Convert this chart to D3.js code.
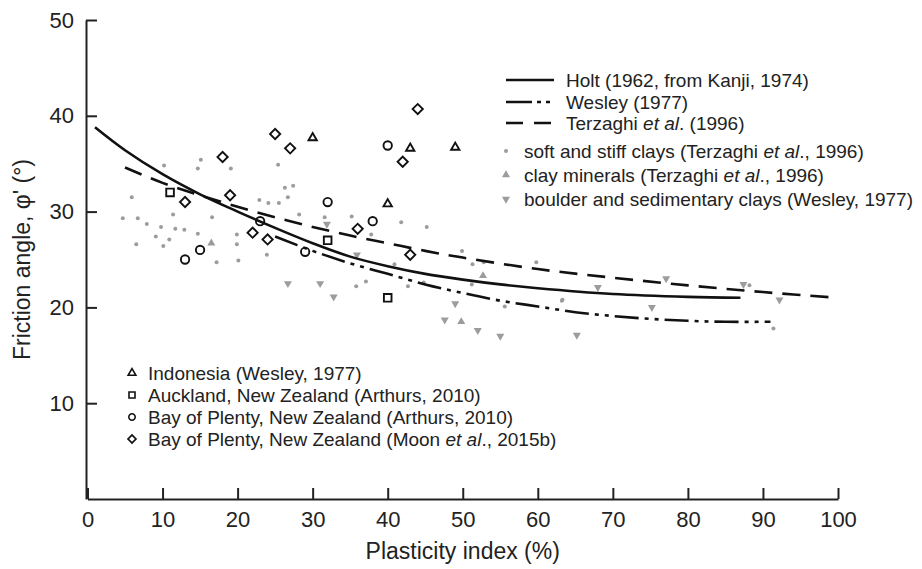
<!DOCTYPE html>
<html lang="en">
  <head>
    <meta charset="UTF-8" />
    <title></title>
    <script src="https://d3js.org/d3.v7.min.js"></script>
    <style>
      body { margin: 0; background: #fff; }
      text { font-family: 'Liberation Sans', Arial, sans-serif; fill: #222; }
    </style>
  </head>
  <body>
    <svg id="chart" width="922" height="569"></svg>
    <script>
      // fitted curves (PI %, friction angle)
      const holt = [[1, 38.8], [5, 36.4], [10, 33.9], [15, 31.8], [20, 30.0], [25, 28.3], [30, 26.7], [35, 25.3], [40, 24.3], [45, 23.5], [50, 22.9], [55, 22.4], [60, 22.0], [70, 21.4], [80, 21.1], [87, 21.0]]
      const wesley = [[25, 27.4], [30, 25.9], [35, 24.6], [40, 23.5], [45, 22.4], [50, 21.5], [55, 20.7], [60, 20.1], [65, 19.5], [70, 19.1], [75, 18.8], [80, 18.6], [85, 18.5], [91, 18.5]]
      const terzaghi = [[5, 34.6], [10, 33.0], [15, 31.7], [20, 30.5], [25, 29.4], [30, 28.4], [35, 27.5], [40, 26.7], [45, 25.9], [50, 25.2], [60, 24.0], [70, 23.1], [80, 22.3], [90, 21.6], [100, 21.0]]

      // grey background data
      const softClays = [[10.2, 34.8], [15.1, 35.4], [14.7, 34.5], [19.1, 34.5], [25.4, 34.9], [5.9, 31.5], [26.3, 32.5], [27.4, 32.7], [26.7, 31.5], [22.9, 31.2], [24.1, 30.9], [25.5, 30.9], [4.7, 29.3], [6.7, 29.3], [7.9, 28.7], [9.8, 28.4], [9.1, 27.4], [10.9, 27.1], [6.5, 26.6], [10.1, 26.4], [11.4, 29.7], [11.7, 28.2], [12.9, 28.1], [14.7, 27.7], [16.6, 29.4], [17.2, 24.7], [19.9, 27.6], [19.9, 26.6], [20.1, 24.9], [23.9, 25.5], [28.2, 29.7], [31.6, 29.4], [35.2, 29.5], [37.8, 27.6], [41.8, 28.9], [45.2, 28.4], [40.9, 24.5], [37.1, 22.7], [35.8, 22.2], [42.7, 22.2], [49.9, 25.9], [51.3, 24.5], [52.8, 24.7], [51.2, 22.4], [59.8, 24.7], [63.2, 20.7], [55.6, 20.1], [44.8, 22.6], [88.2, 22.3], [63.3, 20.8], [91.4, 17.8]]
      const clayMinerals = [[16.5, 26.7], [52.7, 23.3], [49.8, 18.5]]
      const boulderClays = [[31.9, 28.7], [26.7, 22.5], [31.0, 22.5], [32.8, 21.1], [35.9, 25.5], [49.0, 20.4], [47.6, 18.7], [52.0, 17.6], [55.0, 17.0], [65.2, 17.1], [68.0, 22.1], [77.1, 23.0], [75.2, 20.0], [87.4, 22.4], [92.2, 20.8]]

      // black open markers
      const indonesia = [[30, 37.7], [40, 30.8], [43, 36.6], [49, 36.7]]
      const auckland = [[11, 32], [32, 27], [40, 21]]
      const bopArthurs = [[13, 25], [15, 26], [23, 29], [29, 25.8], [32, 31], [38, 29], [40, 36.9]]
      const bopMoon = [[13, 31], [18, 35.7], [19, 31.7], [22, 27.8], [24, 27.1], [25, 38.1], [27, 36.6], [36, 28.2], [43, 25.5], [42, 35.2], [44, 40.7]]

      const xTicks = [0, 10, 20, 30, 40, 50, 60, 70, 80, 90, 100]
      const yTicks = [10, 20, 30, 40, 50]

      const svg = d3.select('#chart')
      const x = d3.scaleLinear().domain([0, 100]).range([87.5, 838])
      const y = d3.scaleLinear().domain([0, 50]).range([499, 20])

      // axes, ticks point inwards
      const xAxis = svg.append('g')
        .attr('transform', `translate(0,${y(0)})`)
        .call(d3.axisBottom(x).tickValues(xTicks).tickSizeInner(-11).tickSizeOuter(0).tickPadding(12))
      const yAxis = svg.append('g')
        .attr('transform', `translate(${x(0) - 1.5},0)`)
        .call(d3.axisLeft(y).tickValues(yTicks).tickSizeInner(-11).tickSizeOuter(0).tickPadding(12))
      ;[xAxis, yAxis].forEach(g => {
        g.selectAll('path, line').attr('stroke', '#222').attr('stroke-width', 2)
        g.selectAll('text').attr('font-size', 22).attr('fill', '#222')
          .attr('font-family', "'Liberation Sans', Arial, sans-serif")
      })

      svg.append('text')
        .attr('x', (x(0) + x(100)) / 2).attr('y', 559)
        .attr('text-anchor', 'middle').attr('font-size', 23)
        .text('Plasticity index (%)')
      svg.append('text')
        .attr('transform', `translate(30,${y(25)}) rotate(-90)`)
        .attr('text-anchor', 'middle').attr('font-size', 23)
        .text("Friction angle, \u03c6' (\u00b0)")

      // grey markers
      const grey = '#9c9c9c'
      svg.append('g').selectAll('circle').data(softClays).join('circle')
        .attr('cx', d => x(d[0])).attr('cy', d => y(d[1])).attr('r', 2)
        .attr('fill', grey)
      const triUp = d3.symbol(d3.symbolTriangle, 28)
      svg.append('g').selectAll('path').data(clayMinerals).join('path')
        .attr('d', triUp).attr('fill', grey)
        .attr('transform', d => `translate(${x(d[0])},${y(d[1])})`)
      svg.append('g').selectAll('path').data(boulderClays).join('path')
        .attr('d', triUp).attr('fill', grey)
        .attr('transform', d => `translate(${x(d[0])},${y(d[1])}) rotate(180)`)

      // curves
      const line = d3.line().x(d => x(d[0])).y(d => y(d[1])).curve(d3.curveCatmullRom)
      const curves = [
        { data: holt, dash: null },
        { data: wesley, dash: '24,6,4,6,4,6' },
        { data: terzaghi, dash: '18,10' }
      ]
      curves.forEach(c => {
        svg.append('path').datum(c.data).attr('d', line)
          .attr('fill', 'none').attr('stroke', '#111').attr('stroke-width', 2.6)
          .attr('stroke-dasharray', c.dash)
      })

      // open black markers
      const markerSets = [
        { data: indonesia, sym: d3.symbol(d3.symbolTriangle, 30), rot: 0 },
        { data: auckland, sym: d3.symbol(d3.symbolSquare, 58), rot: 0 },
        { data: bopArthurs, sym: d3.symbol(d3.symbolCircle, 55), rot: 0 },
        { data: bopMoon, sym: d3.symbol(d3.symbolSquare, 52), rot: 45 }
      ]
      markerSets.forEach(m => {
        svg.append('g').selectAll('path').data(m.data).join('path')
          .attr('d', m.sym).attr('fill', 'none').attr('stroke', '#111').attr('stroke-width', 1.9)
          .attr('transform', d => `translate(${x(d[0])},${y(d[1])}) rotate(${m.rot})`)
      })

      // legend, top right
      const addLabel = (g, tx, ty, parts) => {
        const t = g.append('text').attr('x', tx).attr('y', ty).attr('dy', '0.36em').attr('font-size', 19)
        parts.forEach(p => {
          const s = t.append('tspan').text(p.t)
          if (p.i) s.attr('font-style', 'italic')
        })
      }
      const lg = svg.append('g')
      const lineItems = [
        { y: 80, dash: null, parts: [{ t: 'Holt (1962, from Kanji, 1974)' }] },
        { y: 102, dash: '26,5,4,5,4,5', parts: [{ t: 'Wesley (1977)' }] },
        { y: 123, dash: '17,11', parts: [{ t: 'Terzaghi ' }, { t: 'et al', i: true }, { t: '. (1996)' }] }
      ]
      lineItems.forEach(it => {
        lg.append('line').attr('x1', 506).attr('x2', 554).attr('y1', it.y).attr('y2', it.y)
          .attr('stroke', '#111').attr('stroke-width', 2.6).attr('stroke-dasharray', it.dash)
        addLabel(lg, 566, it.y, it.parts)
      })
      lg.append('circle').attr('cx', 506).attr('cy', 151).attr('r', 2).attr('fill', grey)
      addLabel(lg, 524, 151, [{ t: 'soft and stiff clays (Terzaghi ' }, { t: 'et al', i: true }, { t: '., 1996)' }])
      lg.append('path').attr('d', triUp).attr('fill', grey).attr('transform', 'translate(506,175)')
      addLabel(lg, 524, 175, [{ t: 'clay minerals (Terzaghi ' }, { t: 'et al', i: true }, { t: '., 1996)' }])
      lg.append('path').attr('d', triUp).attr('fill', grey).attr('transform', 'translate(506,199) rotate(180)')
      addLabel(lg, 524, 199, [{ t: 'boulder and sedimentary clays (Wesley, 1977)' }])

      // legend, bottom left
      const bl = svg.append('g')
      const markerItems = [
        { y: 373, sym: d3.symbol(d3.symbolTriangle, 26), rot: 0, parts: [{ t: 'Indonesia (Wesley, 1977)' }] },
        { y: 395, sym: d3.symbol(d3.symbolSquare, 36), rot: 0, parts: [{ t: 'Auckland, New Zealand (Arthurs, 2010)' }] },
        { y: 417, sym: d3.symbol(d3.symbolCircle, 32), rot: 0, parts: [{ t: 'Bay of Plenty, New Zealand (Arthurs, 2010)' }] },
        { y: 439, sym: d3.symbol(d3.symbolSquare, 32), rot: 45, parts: [{ t: 'Bay of Plenty, New Zealand (Moon ' }, { t: 'et al', i: true }, { t: '., 2015b)' }] }
      ]
      markerItems.forEach(it => {
        bl.append('path').attr('d', it.sym).attr('fill', 'none').attr('stroke', '#111').attr('stroke-width', 1.6)
          .attr('transform', `translate(132,${it.y}) rotate(${it.rot})`)
        addLabel(bl, 148, it.y, it.parts)
      })
    </script>
  </body>
</html>
